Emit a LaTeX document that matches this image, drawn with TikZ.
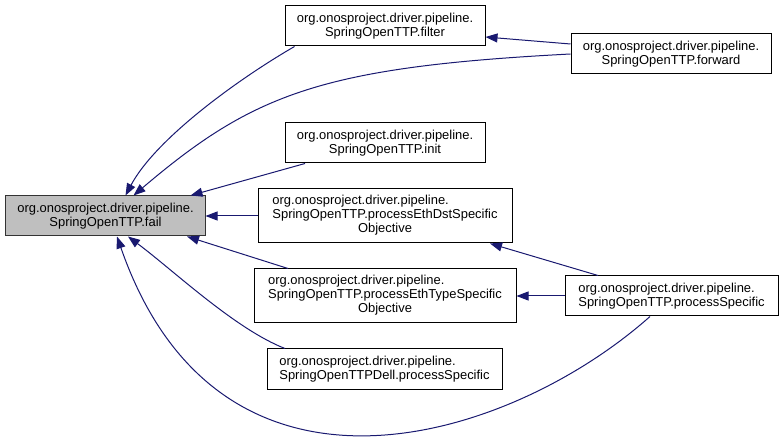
\documentclass[tikz,border=0pt]{standalone}
\usepackage{fontspec}
\setmainfont{Liberation Sans}
\usetikzlibrary{arrows.meta}
\definecolor{edgeblue}{RGB}{25,25,112}
\definecolor{failgray}{RGB}{191,191,191}
\begin{document}
\begin{tikzpicture}[x=1bp,y=-1bp,
  fnbox/.style={draw=black, line width=1bp, inner sep=0pt, fill=white,
    font=\fontsize{13}{14}\selectfont, align=center},
  edge/.style={draw=edgeblue, line width=1bp, -{Triangle[length=12bp,width=9bp]}}]
\useasboundingbox (0,0) rectangle (781,441);

\node[fnbox, fill=failgray, draw=black!80, minimum width=199bp, minimum height=40bp] (fail) at (105.5,216)
  {org.onosproject.driver.pipeline.\\SpringOpenTTP.fail};
\node[fnbox, minimum width=200bp, minimum height=40bp] (filter) at (385,26)
  {org.onosproject.driver.pipeline.\\SpringOpenTTP.filter};
\node[fnbox, minimum width=200bp, minimum height=40bp] (forward) at (671,54)
  {org.onosproject.driver.pipeline.\\SpringOpenTTP.forward};
\node[fnbox, minimum width=200bp, minimum height=40bp] (init) at (385,143)
  {org.onosproject.driver.pipeline.\\SpringOpenTTP.init};
\node[fnbox, minimum width=254bp, minimum height=54bp] (ethdst) at (385,216)
  {\begin{tabular}{@{}l@{}}org.onosproject.driver.pipeline.\\SpringOpenTTP.processEthDstSpecific\\\multicolumn{1}{@{}c@{}}{Objective}\end{tabular}};
\node[fnbox, minimum width=262bp, minimum height=54bp] (ethtype) at (385,296)
  {\begin{tabular}{@{}l@{}}org.onosproject.driver.pipeline.\\SpringOpenTTP.processEthTypeSpecific\\\multicolumn{1}{@{}c@{}}{Objective}\end{tabular}};
\node[fnbox, align=left, minimum width=235bp, minimum height=40bp] (dell) at (384.5,369)
  {org.onosproject.driver.pipeline.\\SpringOpenTTPDell.processSpecific};
\node[fnbox, align=left, minimum width=213bp, minimum height=40bp] (psp) at (671.5,296)
  {org.onosproject.driver.pipeline.\\SpringOpenTTP.processSpecific};

% edges
\draw[edge] ([xshift=10bp]filter.south west) .. controls (235,81) and (155,140) .. ([xshift=20bp]fail.north);
\draw[edge] (forward.west) .. controls (321,67) and (253,94) .. ([xshift=28bp]fail.north);
\draw[edge] ([yshift=10bp]forward.west) -- ([yshift=-11bp]filter.east);
\draw[edge] ([xshift=-80bp]init.south) -- ([xshift=85bp]fail.north);
\draw[edge] (ethdst.west) -- (fail.east);
\draw[edge] ([xshift=-97bp]ethtype.north) -- ([xshift=81.5bp]fail.south);
\draw[edge] ([xshift=-99.5bp]dell.north) .. controls (235,329) and (173,270) .. ([xshift=22.5bp]fail.south);
\draw[edge] ([xshift=-21.5bp]psp.south) .. controls (510,441) and (220,533) .. ([xshift=11.5bp]fail.south);
\draw[edge] ([xshift=-73.5bp]psp.north) -- ([xshift=105bp]ethdst.south);
\draw[edge] (psp.west) -- (ethtype.east);
\end{tikzpicture}
\end{document}
